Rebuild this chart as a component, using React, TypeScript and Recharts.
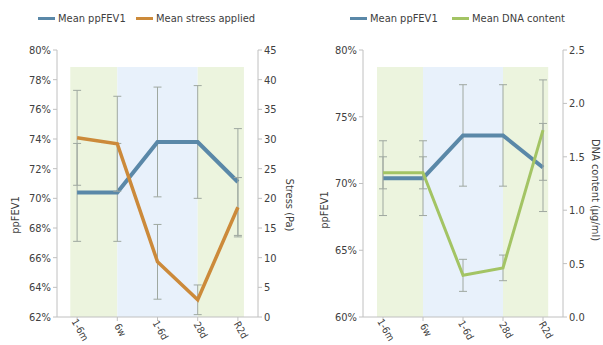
import React from "react";
import { LineChart, Line, XAxis, YAxis, ReferenceArea, ErrorBar } from "recharts";

const categories = ["1-6m", "6w", "1-6d", "28d", "R2d"];
const fevStress = [70.4, 70.4, 73.8, 73.8, 71.1];
const fevStressErr = [3.3, 3.3, 3.7, 3.8, 3.6];
const stress = [30.2, 29.2, 9.3, 2.9, 18.5];
const stressErr = [8, 8, 6.3, 2.5, 5];
const fevDna = [70.4, 70.4, 73.6, 73.6, 71.2];
const fevDnaErr = [2.8, 2.8, 3.8, 3.8, 3.3];
const dna = [1.35, 1.35, 0.39, 0.46, 1.75];
const dnaErr = [0.15, 0.15, 0.15, 0.12, 0.47];

const leftTicksA = [62, 64, 66, 68, 70, 72, 74, 76, 78, 80];
const rightTicksA = [0, 5, 10, 15, 20, 25, 30, 35, 40, 45];
const leftTicksB = [60, 65, 70, 75, 80];
const rightTicksB = [0, 0.5, 1, 1.5, 2, 2.5];

const dataA = categories.map((c, i) => ({ x: i, fev: fevStress[i], fevErr: fevStressErr[i], stress: stress[i], stressErr: stressErr[i] }));
const dataB = categories.map((c, i) => ({ x: i, fev: fevDna[i], fevErr: fevDnaErr[i], dna: dna[i], dnaErr: dnaErr[i] }));

const FONT = "'DejaVu Sans Condensed', 'Liberation Sans Narrow', sans-serif";
const TXT = "#404040";
const AX = "#c0c0c0";
const BLUE = "#5a88a8";
const ORANGE = "#cc8a3a";
const GREEN = "#a3c464";
const GREEN_BG = "#ecf4de";
const BLUE_BG = "#e8f1fb";
const ERR = "#9fa8a0";

const XTick = (props: any) => {
  const { x, y, payload } = props;
  const tx = x + 3;
  const ty = y + 7;
  return (
    <text x={tx} y={ty} transform={`rotate(60 ${tx} ${ty})`} textAnchor="middle" dominantBaseline="central" fontFamily={FONT} fontSize={10} fill={TXT}>
      {categories[payload.value]}
    </text>
  );
};

const SideText = ({ x, y, angle, text }: any) => (
  <text x={x} y={y} transform={`rotate(${angle} ${x} ${y})`} textAnchor="middle" dominantBaseline="central" fontFamily={FONT} fontSize={11} fill={TXT}>
    {text}
  </text>
);

const LegendItem = ({ left, color, text }: any) => (
  <div style={{ position: "absolute", left, top: 12, display: "flex", alignItems: "center", fontFamily: FONT, fontSize: 11, color: TXT, whiteSpace: "nowrap" }}>
    <div style={{ width: 17, height: 3, background: color, marginRight: 3 }} />
    <span>{text}</span>
  </div>
);

const tickStyle = { fontFamily: FONT, fontSize: 11, fill: TXT };

export default function App() {
  return (
    <div style={{ position: "absolute", left: 0, top: 0, width: 603, height: 345, background: "#fff", overflow: "hidden" }}>
      <LegendItem left={38} color={BLUE} text="Mean ppFEV1" />
      <LegendItem left={136} color={ORANGE} text="Mean stress applied" />
      <LegendItem left={350} color={BLUE} text="Mean ppFEV1" />
      <LegendItem left={452} color={GREEN} text="Mean DNA content" />
      <div style={{ position: "absolute", left: 0, top: 0 }}>
        <LineChart width={303} height={345} data={dataA} margin={{ top: 50, right: 0, bottom: 0, left: 0 }}>
          <XAxis dataKey="x" type="number" domain={[-0.5, 4.5]} ticks={[0, 1, 2, 3, 4]} tick={<XTick />} height={28} stroke={AX} tickSize={4} interval={0} />
          <YAxis yAxisId="left" domain={[62, 80]} ticks={leftTicksA} tickFormatter={(v: number) => `${v}%`} width={57} tick={tickStyle} stroke={AX} tickSize={4} interval={0} />
          <YAxis yAxisId="right" orientation="right" domain={[0, 45]} ticks={rightTicksA} width={45} tick={tickStyle} stroke={AX} tickSize={4} interval={0} />
          <ReferenceArea yAxisId="left" x1={-0.17} x2={1} y1={62} y2={78.85} fill={GREEN_BG} fillOpacity={1} stroke="none" />
          <ReferenceArea yAxisId="left" x1={1} x2={3} y1={62} y2={78.85} fill={BLUE_BG} fillOpacity={1} stroke="none" />
          <ReferenceArea yAxisId="left" x1={3} x2={4.15} y1={62} y2={78.85} fill={GREEN_BG} fillOpacity={1} stroke="none" />
          <Line yAxisId="left" dataKey="fev" stroke={BLUE} strokeWidth={4} dot={false} isAnimationActive={false}>
            <ErrorBar dataKey="fevErr" direction="y" width={4} stroke={ERR} strokeWidth={1} />
          </Line>
          <Line yAxisId="right" dataKey="stress" stroke={ORANGE} strokeWidth={3.5} dot={false} isAnimationActive={false}>
            <ErrorBar dataKey="stressErr" direction="y" width={4} stroke={ERR} strokeWidth={1} />
          </Line>
          <SideText x={15} y={215} angle={-90} text="ppFEV1" />
          <SideText x={289} y={205} angle={90} text="Stress (Pa)" />
        </LineChart>
      </div>
      <div style={{ position: "absolute", left: 303, top: 0 }}>
        <LineChart width={300} height={345} data={dataB} margin={{ top: 50, right: 0, bottom: 0, left: 0 }}>
          <XAxis dataKey="x" type="number" domain={[-0.5, 4.5]} ticks={[0, 1, 2, 3, 4]} tick={<XTick />} height={28} stroke={AX} tickSize={4} interval={0} />
          <YAxis yAxisId="left" domain={[60, 80]} ticks={leftTicksB} tickFormatter={(v: number) => `${v}%`} width={60} tick={tickStyle} stroke={AX} tickSize={4} interval={0} />
          <YAxis yAxisId="right" orientation="right" domain={[0, 2.5]} ticks={rightTicksB} tickFormatter={(v: number) => v.toFixed(1)} width={40} tick={tickStyle} stroke={AX} tickSize={4} interval={0} />
          <ReferenceArea yAxisId="left" x1={-0.15} x2={1} y1={60} y2={78.73} fill={GREEN_BG} fillOpacity={1} stroke="none" />
          <ReferenceArea yAxisId="left" x1={1} x2={3} y1={60} y2={78.73} fill={BLUE_BG} fillOpacity={1} stroke="none" />
          <ReferenceArea yAxisId="left" x1={3} x2={4.13} y1={60} y2={78.73} fill={GREEN_BG} fillOpacity={1} stroke="none" />
          <Line yAxisId="left" dataKey="fev" stroke={BLUE} strokeWidth={4} dot={false} isAnimationActive={false}>
            <ErrorBar dataKey="fevErr" direction="y" width={4} stroke={ERR} strokeWidth={1} />
          </Line>
          <Line yAxisId="right" dataKey="dna" stroke={GREEN} strokeWidth={3} dot={false} isAnimationActive={false}>
            <ErrorBar dataKey="dnaErr" direction="y" width={4} stroke={ERR} strokeWidth={1} />
          </Line>
          <SideText x={21} y={210} angle={-90} text="ppFEV1" />
          <SideText x={292} y={190} angle={90} text="DNA content (µg/ml)" />
        </LineChart>
      </div>
    </div>
  );
}
